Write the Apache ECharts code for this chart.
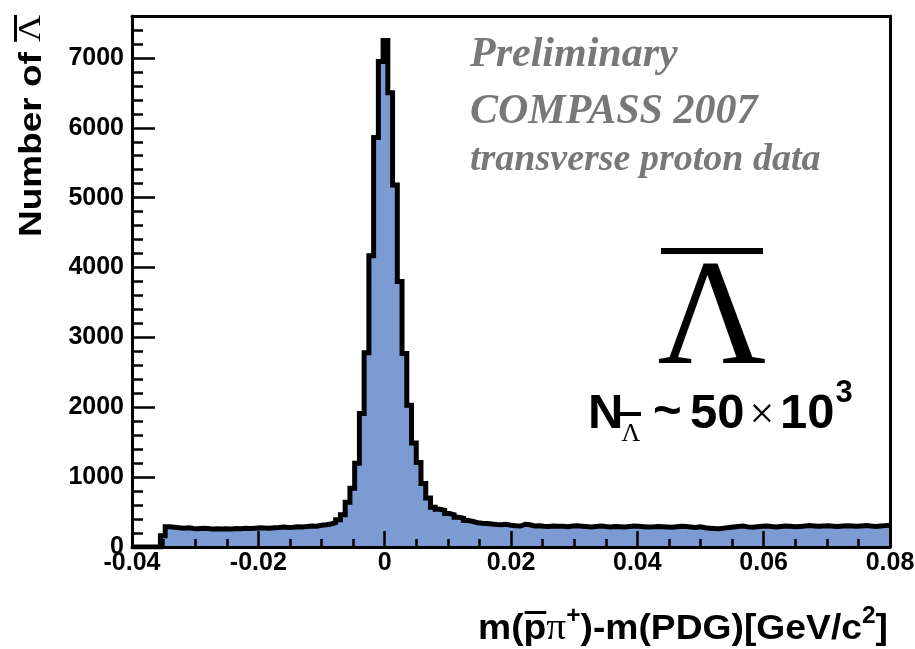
<!DOCTYPE html>
<html><head><meta charset="utf-8">
<script src="https://cdn.jsdelivr.net/npm/echarts@6.0.0/dist/echarts.min.js"></script>
<style>html,body{margin:0;padding:0;background:#fff}#c{width:915px;height:649px}</style>
</head><body><div id="c"></div>
<script>
// ---------------- data ----------------
const xMin = -0.04;
const xMax = 0.08;
const binWidth = 0.00075;           // 160 bins
const xTickStep = 0.02;
const yMax = 7600;
const yTickStep = 1000;
const yMinorStep = 200;
const counts = [
  0, 0, 0, 0, 0, 0,
  160,
  290, 282, 275, 270, 274, 266, 262, 268, 264, 258,
  262, 256, 260, 258, 266, 262, 268, 265, 270, 276,
  272, 268, 276, 280, 286, 278, 283, 290, 286, 295,
  300, 298, 310, 318, 330, 350, 390,
  460, 640, 840, 1200, 1910, 2780, 4170, 5860, 6950, 7250,
  6500, 5180, 3800, 2770, 2030, 1490, 1210, 910, 700, 570,
  540, 525, 480, 462, 425, 410, 380, 365, 348, 340, 336, 328, 322, 318, 325, 312,
  305, 300, 326, 318, 300, 305, 298, 295, 302, 298,
  296, 290, 300, 305, 298, 292, 288, 295, 300, 292,
  288, 295, 290, 285, 292, 300, 296, 290, 285, 288,
  295, 290, 286, 282, 290, 296, 292, 285, 280, 288,
  275, 270, 265, 262, 270, 278, 285, 292, 300, 288,
  282, 290, 296, 300, 292, 288, 295, 302, 298, 290,
  295, 300, 308, 302, 296, 300, 305, 298, 292, 300,
  305, 300, 296, 302, 308, 300, 295, 300, 306, 310
];
const noteLines = ['Preliminary', 'COMPASS 2007', 'transverse proton data'];
const yTitle = ['Number of ', 'Λ'];
const xTitle = ['m(', 'p', 'π', '+', ')-m(PDG)[GeV/c', '2', ']'];

// ---------------- chart ----------------
const SANS = '"Liberation Sans", Arial, Helvetica, sans-serif';
const SERIF = '"Liberation Serif", "Times New Roman", serif';
const pts = counts.map((c, i) => [xMin + i * binWidth, c]);
pts.push([xMax, counts[counts.length - 1]]);

function lf() { return { fontSize: 25, fontWeight: 'bold', fontFamily: SANS, color: '#000' }; }
function ts() { return { color: '#000', width: 2.5 }; }
const chart = echarts.init(document.getElementById('c'));
chart.setOption({
  animation: false,
  backgroundColor: '#fff',
  grid: { left: 132, right: 25, top: 16, bottom: 102, containLabel: false, outerBoundsMode: 'none' },
  xAxis: [
    { type: 'value', min: xMin, max: xMax, interval: xTickStep, z: 5,
      axisLine: { show: true, onZero: false, lineStyle: { color: '#000', width: 3 } },
      axisTick: { show: true, inside: true, length: 16, lineStyle: ts() },
      minorTick: { show: true, splitNumber: 4, length: 8, lineStyle: ts() },
      axisLabel: Object.assign({ margin: 4, showMinLabel: true, showMaxLabel: true,
        formatter: v => Math.abs(v) < 1e-9 ? '0' : v.toFixed(2) }, lf()),
      splitLine: { show: false } },
    { type: 'value', min: xMin, max: xMax, position: 'top', z: 5,
      axisLine: { show: true, onZero: false, lineStyle: { color: '#000', width: 3 } },
      axisTick: { show: false }, axisLabel: { show: false }, splitLine: { show: false } }
  ],
  yAxis: [
    { type: 'value', min: 0, max: yMax, interval: yTickStep, position: 'left', z: 5,
      axisLine: { show: true, onZero: false, lineStyle: { color: '#000', width: 3 } },
      axisTick: { show: true, inside: true, length: 23, lineStyle: ts() },
      axisLabel: Object.assign({ margin: 8, showMaxLabel: false, formatter: v => String(Math.round(v)) }, lf()),
      splitLine: { show: false } },
    { type: 'value', min: 0, max: yMax, interval: yMinorStep, position: 'left', z: 5,
      axisLine: { show: false, onZero: false },
      axisTick: { show: true, inside: true, length: 11, lineStyle: ts() },
      axisLabel: { show: false }, splitLine: { show: false } },
    { type: 'value', min: 0, max: yMax, position: 'right', z: 5,
      axisLine: { show: true, onZero: false, lineStyle: { color: '#000', width: 3 } },
      axisTick: { show: false }, axisLabel: { show: false }, splitLine: { show: false } }
  ],
  series: [{
    type: 'line', xAxisIndex: 0, yAxisIndex: 0, step: 'end', data: pts,
    showSymbol: false, symbol: 'none', z: 2, clip: true,
    lineStyle: { color: '#000', width: 5, join: 'miter', cap: 'butt' },
    areaStyle: { color: '#7b9bd2', opacity: 1 },
    emphasis: { disabled: true }
  }]
});

// ---------------- annotations (drawn with ECharts' own zrender graphics) ----------------
const G = echarts.graphic;
const zr = chart.getZr();
const mctx = document.createElement('canvas').getContext('2d');
function tw(t, f) { mctx.font = f; return mctx.measureText(t).width; }
function T(x, y, text, font, extra) {
  return new G.Text({ x: x, y: y, z: 100, silent: true,
    style: Object.assign({ text: text, font: font, fill: '#000', align: 'left', verticalAlign: 'middle' }, extra || {}) });
}
function R(x, y, w, h) {
  return new G.Rect({ z: 100, silent: true, shape: { x: x, y: y, width: w, height: h }, style: { fill: '#000' } });
}
const noteFontBig = `italic bold 42px ${SERIF}`;
const noteFontSm = `italic bold 38px ${SERIF}`;
zr.add(T(470, 55, noteLines[0], noteFontBig, { fill: '#787878' }));
zr.add(T(470, 112, noteLines[1], noteFontBig, { fill: '#787878' }));
zr.add(T(470, 160, noteLines[2], noteFontSm, { fill: '#787878' }));
zr.add(T(712, 324, 'Λ', `150px ${SERIF}`, { align: 'center' }));
zr.add(R(661, 248, 102, 6));
const fN = `bold 49px ${SANS}`;
zr.add(T(588, 414, 'N', fN));
zr.add(R(620, 412, 21, 4));
zr.add(T(631, 434, 'Λ', `26px ${SERIF}`, { align: 'center' }));
zr.add(T(653, 412, '~', fN));
zr.add(T(690, 414, '50', fN));
zr.add(T(762, 416, '×', `44px ${SERIF}`, { align: 'center' }));
zr.add(T(780, 414, '10', fN));
zr.add(T(780 + tw('10', fN) + 1, 393, '3', `bold 31px ${SANS}`));

(function () {
  const fB = `bold 35px ${SANS}`;
  const fS = `bold 23px ${SANS}`;
  const fP = `37px ${SERIF}`;
  const runs = [
    { t: xTitle[0], f: fB, dy: 0 },
    { t: xTitle[1], f: fB, dy: 0, bar: true },
    { t: xTitle[2], f: fP, dy: 0 },
    { t: xTitle[3], f: fS, dy: -12 },
    { t: xTitle[4], f: fB, dy: 0 },
    { t: xTitle[5], f: fS, dy: -12 },
    { t: xTitle[6], f: fB, dy: 0 }
  ];
  let W = 0; runs.forEach(r => { r.w = tw(r.t, r.f); W += r.w; });
  const target = 410;
  const g = new G.Group({ x: 888 - target, y: 629, scaleX: target / W });
  let x = 0;
  runs.forEach(r => {
    g.add(T(x, r.dy, r.t, r.f));
    if (r.bar) g.add(R(x + 1, -18, r.w - 1, 3));
    x += r.w;
  });
  zr.add(g);
})();

(function () {
  const fA = `bold 31px ${SANS}`;
  const fB = `31px ${SERIF}`;
  const wA = tw(yTitle[0], fA), wB = tw(yTitle[1], fB);
  const W = wA + wB;
  const target = 222;
  const g = new G.Group({ x: 32, y: 126, rotation: Math.PI / 2, scaleX: target / W });
  g.add(T(-W / 2, 0, yTitle[0], fA));
  g.add(T(-W / 2 + wA, 0, yTitle[1], fB));
  g.add(R(-W / 2 + wA, -18, wB, 3));
  zr.add(g);
})();
</script></body></html>
